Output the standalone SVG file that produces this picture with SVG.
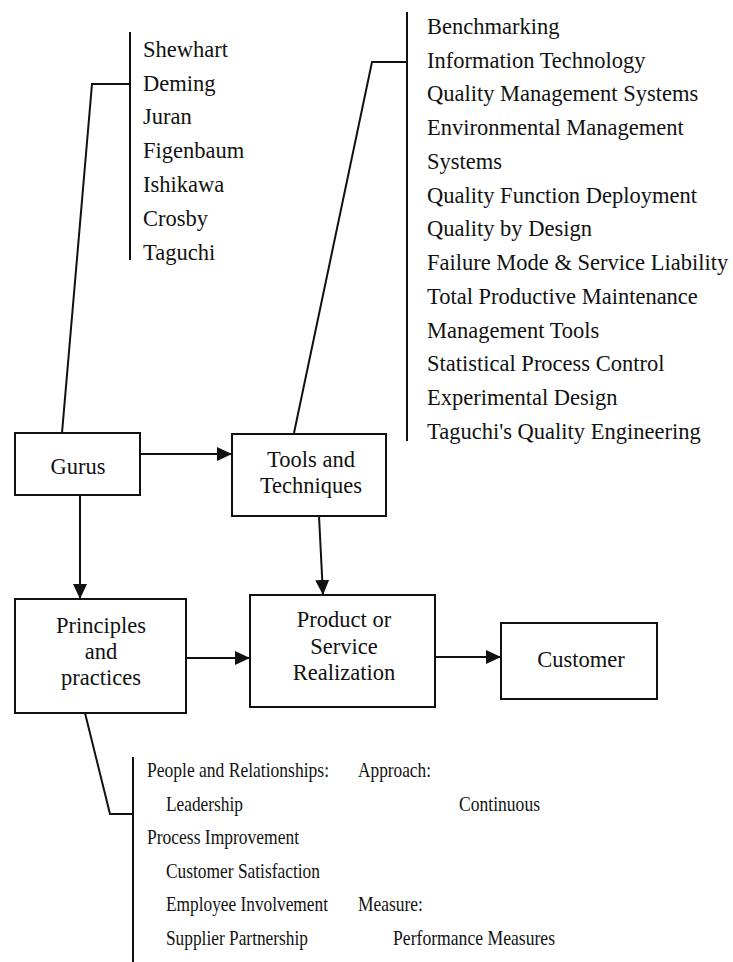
<svg xmlns="http://www.w3.org/2000/svg" width="733" height="962" viewBox="0 0 733 962">
  <style>
    .box { fill: none; stroke: #111; stroke-width: 2; }
    .ln { fill: none; stroke: #111; stroke-width: 2; }
    .arr { fill: none; stroke: #111; stroke-width: 2; marker-end: url(#head); }
    .lbl { font-family: 'Liberation Serif', serif; font-size: 22.5px; text-anchor: middle; fill: #111; }
    .item { font-family: 'Liberation Serif', serif; font-size: 22.5px; fill: #111; }
    .sub { font-family: 'Liberation Serif', serif; font-size: 22px; fill: #111; }
  </style>
  <defs>
    <marker id="head" viewBox="0 0 15 14" refX="15" refY="7" markerWidth="15" markerHeight="14" markerUnits="userSpaceOnUse" orient="auto">
      <path d="M0,0 L15,7 L0,14 Z" fill="#111"/>
    </marker>
  </defs>
  <rect width="733" height="962" fill="#ffffff"/>

  <!-- connectors -->
  <g id="connectors">
    <!-- gurus bracket -->
    <path class="ln" d="M130,32 V260"/>
    <path class="ln" d="M62,433 L92,84 H130"/>
    <!-- tools bracket -->
    <path class="ln" d="M407,12 V441"/>
    <path class="ln" d="M294,433 L372,62 H407"/>
    <!-- principles bracket -->
    <path class="ln" d="M133,757 V962"/>
    <path class="ln" d="M85,713 L110,814 H133"/>
    <!-- flow arrows -->
    <path class="arr" d="M140,454 H232"/>
    <path class="arr" d="M80,495 V599"/>
    <path class="arr" d="M319,516 L323,595"/>
    <path class="arr" d="M186,658 H250"/>
    <path class="arr" d="M435,657 H501"/>
  </g>

  <g id="gurus">
    <rect class="box" x="15" y="433" width="125" height="62"/>
    <text class="lbl" x="78" y="474">Gurus</text>
  </g>

  <g id="tools">
    <rect class="box" x="232" y="434" width="154" height="82"/>
    <text class="lbl" x="311" y="467">Tools and</text>
    <text class="lbl" x="311" y="493">Techniques</text>
  </g>

  <g id="principles">
    <rect class="box" x="15" y="599" width="171" height="114"/>
    <text class="lbl" x="101" y="633">Principles</text>
    <text class="lbl" x="101" y="659">and</text>
    <text class="lbl" x="101" y="685">practices</text>
  </g>

  <g id="realization">
    <rect class="box" x="250" y="595" width="185" height="112"/>
    <text class="lbl" x="344" y="627">Product or</text>
    <text class="lbl" x="344" y="654">Service</text>
    <text class="lbl" x="344" y="680">Realization</text>
  </g>

  <g id="customer">
    <rect class="box" x="501" y="623" width="156" height="76"/>
    <text class="lbl" x="581" y="667">Customer</text>
  </g>

  <g id="gurus-list">
    <text class="item" x="143" y="57">Shewhart</text>
    <text class="item" x="143" y="91">Deming</text>
    <text class="item" x="143" y="124">Juran</text>
    <text class="item" x="143" y="158">Figenbaum</text>
    <text class="item" x="143" y="192">Ishikawa</text>
    <text class="item" x="143" y="226">Crosby</text>
    <text class="item" x="143" y="260">Taguchi</text>
  </g>

  <g id="tools-list">
    <text class="item" x="427" y="34">Benchmarking</text>
    <text class="item" x="427" y="68">Information Technology</text>
    <text class="item" x="427" y="101">Quality Management Systems</text>
    <text class="item" x="427" y="135">Environmental Management</text>
    <text class="item" x="427" y="169">Systems</text>
    <text class="item" x="427" y="203">Quality Function Deployment</text>
    <text class="item" x="427" y="236">Quality by Design</text>
    <text class="item" x="427" y="270">Failure Mode &amp; Service Liability</text>
    <text class="item" x="427" y="304">Total Productive Maintenance</text>
    <text class="item" x="427" y="338">Management Tools</text>
    <text class="item" x="427" y="371">Statistical Process Control</text>
    <text class="item" x="427" y="405">Experimental Design</text>
    <text class="item" x="427" y="439">Taguchi's Quality Engineering</text>
  </g>

  <!-- condensed list: horizontal scale 0.81, x in local units -->
  <g id="principles-list" transform="scale(0.81 1)">
    <text class="sub" x="181.5" y="777" textLength="224.7" lengthAdjust="spacingAndGlyphs">People and Relationships:</text>
    <text class="sub" x="204.9" y="811" textLength="95.1" lengthAdjust="spacingAndGlyphs">Leadership</text>
    <text class="sub" x="181.5" y="844" textLength="187.7" lengthAdjust="spacingAndGlyphs">Process Improvement</text>
    <text class="sub" x="204.9" y="878" textLength="190.1" lengthAdjust="spacingAndGlyphs">Customer Satisfaction</text>
    <text class="sub" x="204.9" y="911" textLength="200" lengthAdjust="spacingAndGlyphs">Employee Involvement</text>
    <text class="sub" x="204.9" y="945" textLength="175.3" lengthAdjust="spacingAndGlyphs">Supplier Partnership</text>
    <text class="sub" x="442" y="777" textLength="90.1" lengthAdjust="spacingAndGlyphs">Approach:</text>
    <text class="sub" x="566.7" y="811" textLength="100" lengthAdjust="spacingAndGlyphs">Continuous</text>
    <text class="sub" x="442" y="911" textLength="80.2" lengthAdjust="spacingAndGlyphs">Measure:</text>
    <text class="sub" x="485.2" y="945" textLength="200" lengthAdjust="spacingAndGlyphs">Performance Measures</text>
  </g>
</svg>
